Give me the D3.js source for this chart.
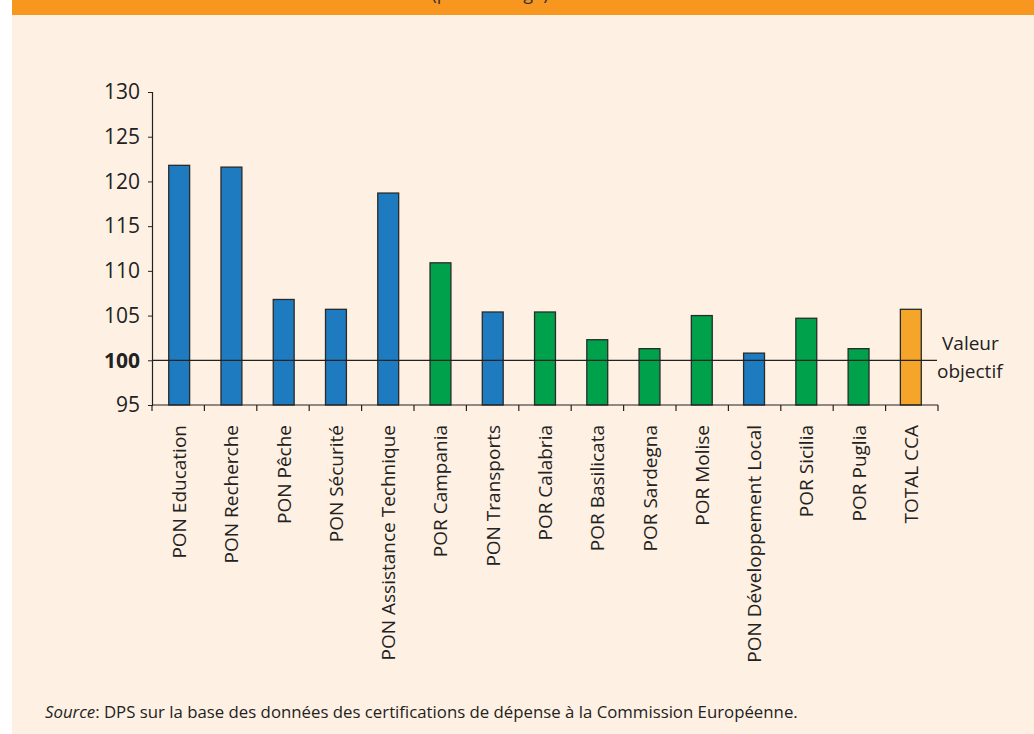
<!DOCTYPE html>
<html>
<head>
<meta charset="utf-8">
<script src="https://cdn.jsdelivr.net/npm/d3@7"></script>
<style>
  body { margin: 0; background: #fff; }
  svg { display: block; }
</style>
</head>
<body>
<svg id="chart"></svg>
<script>
// categories, values and group (PON = blue, POR = green, total = orange)
const categories = [
    "PON Education", "PON Recherche", "PON Pêche", "PON Sécurité",
    "PON Assistance Technique", "POR Campania", "PON Transports", "POR Calabria",
    "POR Basilicata", "POR Sardegna", "POR Molise", "PON Développement Local",
    "POR Sicilia", "POR Puglia", "TOTAL CCA"
];
const values = [121.8, 121.6, 106.8, 105.7, 118.7, 110.9, 105.4, 105.4, 102.3, 101.3, 105.0, 100.8, 104.7, 101.3, 105.7];
const groups = ["PON", "PON", "PON", "PON", "PON", "POR", "PON", "POR", "POR", "POR", "POR", "PON", "POR", "POR", "TOTAL"];
const yTicks = [95, 100, 105, 110, 115, 120, 125, 130];
const target = 100;

const width = 1034, height = 734;
const font = "'Open Sans', sans-serif";

const svg = d3.select("#chart")
    .attr("width", width)
    .attr("height", height);

// background panel and top banner (its title is cut at the top edge, as in the source)
svg.append("rect").attr("x", 12).attr("y", 0).attr("width", width - 12).attr("height", height).attr("fill", "#fef1e3");
svg.append("rect").attr("x", 12).attr("y", 0).attr("width", width - 12).attr("height", 15).attr("fill", "#f7971f");
svg.append("text")
    .attr("x", 490).attr("y", 0)
    .attr("text-anchor", "middle")
    .attr("font-family", font).attr("font-size", 18)
    .attr("fill", "#333")
    .text("(pourcentage)");

const x = d3.scaleBand()
    .domain(categories)
    .range([152, 938])
    .paddingInner(0.6)
    .paddingOuter(0.32);

const y = d3.scaleLinear()
    .domain([95, 130])
    .range([405, 92]);

const color = d3.scaleOrdinal()
    .domain(["PON", "POR", "TOTAL"])
    .range(["#1f7bc0", "#00a14b", "#f5a52a"]);

// bars
svg.append("g")
    .selectAll("rect")
    .data(categories)
    .enter()
    .append("rect")
    .attr("x", d => x(d))
    .attr("y", (d, i) => y(values[i]))
    .attr("width", x.bandwidth())
    .attr("height", (d, i) => y(95) - y(values[i]))
    .attr("fill", (d, i) => color(groups[i]))
    .attr("stroke", "#2a2a2a")
    .attr("stroke-width", 1.3);

// target line
svg.append("line")
    .attr("x1", 152).attr("x2", 937)
    .attr("y1", y(target)).attr("y2", y(target))
    .attr("stroke", "#222")
    .attr("stroke-width", 1.2);

svg.append("text")
    .attr("x", 942).attr("y", y(target) - 10)
    .attr("font-family", font).attr("font-size", 19).attr("fill", "#222")
    .text("Valeur");
svg.append("text")
    .attr("x", 937).attr("y", y(target) + 18)
    .attr("font-family", font).attr("font-size", 19).attr("fill", "#222")
    .text("objectif");

// y axis
const yAxis = svg.append("g")
    .attr("transform", "translate(152,0)")
    .call(d3.axisLeft(y).tickValues(yTicks).tickSize(4).tickPadding(8));
yAxis.select(".domain").attr("stroke", "#222").attr("stroke-width", 1.2);
yAxis.selectAll(".tick line").attr("stroke", "#222");
yAxis.selectAll(".tick text")
    .attr("font-family", font)
    .attr("font-size", 21)
    .attr("fill", "#222")
    .attr("font-weight", d => d === target ? "bold" : "normal");

// x axis: baseline with ticks between categories
const boundaries = d3.range(categories.length + 1).map(i => 152 + i * (786 / categories.length));
svg.append("line")
    .attr("x1", 152).attr("x2", 938)
    .attr("y1", 405).attr("y2", 405)
    .attr("stroke", "#222").attr("stroke-width", 1.2);
svg.append("g")
    .selectAll("line")
    .data(boundaries)
    .enter()
    .append("line")
    .attr("x1", d => d).attr("x2", d => d)
    .attr("y1", 405).attr("y2", 411)
    .attr("stroke", "#222").attr("stroke-width", 1.2);

// category labels, rotated
svg.append("g")
    .selectAll("text")
    .data(categories)
    .enter()
    .append("text")
    .attr("transform", d => `translate(${x(d) + x.bandwidth() / 2 + 7},425) rotate(-90)`)
    .attr("text-anchor", "end")
    .attr("font-family", font)
    .attr("font-size", 19)
    .attr("fill", "#222")
    .text(d => d);

// source note
const source = svg.append("text")
    .attr("x", 45).attr("y", 718)
    .attr("font-family", font).attr("font-size", 16.8).attr("fill", "#222");
source.append("tspan").attr("font-style", "italic").text("Source");
source.append("tspan").text(": DPS sur la base des données des certifications de dépense à la Commission Européenne.");
</script>
</body>
</html>
